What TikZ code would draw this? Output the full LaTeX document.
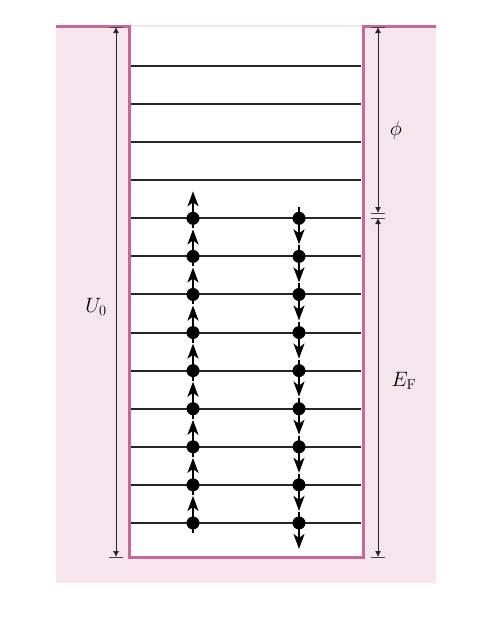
\documentclass[tikz,border=0pt]{standalone}
\usetikzlibrary{arrows.meta}
\definecolor{wellpink}{HTML}{C8679A}
\definecolor{bgpink}{HTML}{F7E5ED}
\definecolor{levelgray}{HTML}{262626}
\tikzset{
  level/.style={draw=levelgray,line width=2pt},
  wall/.style={draw=wellpink,line width=3pt,line join=miter},
  spinup/.style={line width=2pt,-{Stealth[length=15pt,width=11pt,inset=4pt]}},
  spindown/.style={line width=2pt,-{Stealth[length=15pt,width=11pt,inset=4pt]}},
  electron/.style={circle,fill=black,inner sep=0pt,minimum size=13pt},
  dimline/.style={draw=black!85,line width=0.8pt,{Latex[length=6pt,width=6pt]}-{Latex[length=6pt,width=6pt]}},
  dimbar/.style={draw=black!75,line width=0.8pt},
  lab/.style={font=\fontsize{22}{26}\selectfont,inner sep=0pt}
}
\begin{document}
\begin{tikzpicture}[x=1pt,y=-1pt]
\useasboundingbox (0,0) rectangle (498,630);
\fill[white] (0,0) rectangle (498,630);
\fill[bgpink] (56,25) rectangle (436,583);
\fill[white] (129,26.5) rectangle (363,557);
% energy levels
\foreach \i in {0,...,12}{
  \pgfmathsetmacro{\yy}{66+38.08*\i}
  \coordinate (L\i) at (131,\yy);
  \coordinate (R\i) at (361,\yy);
  \draw[level] (L\i) -- (R\i);
}
% electrons
\foreach \i in {4,...,12}{
  \pgfmathsetmacro{\yy}{66+38.08*\i}
  \coordinate (ua\i) at (193,\yy+10);
  \coordinate (ub\i) at (193,\yy-27);
  \coordinate (da\i) at (299,\yy-11);
  \coordinate (db\i) at (299,\yy+26);
  \draw[spinup] (ua\i) -- (ub\i);
  \draw[spindown] (da\i) -- (db\i);
  \node[electron] (eu\i) at (193,\yy) {};
  \node[electron] (ed\i) at (299,\yy) {};
}
% well walls
\coordinate (w1) at (56,26.5);
\coordinate (w2) at (129,26.5);
\coordinate (w3) at (129,557);
\coordinate (w4) at (363.5,557);
\coordinate (w5) at (363.5,26.5);
\coordinate (w6) at (436,26.5);
\draw[wall] (w1) -- (w2) -- (w3) -- (w4) -- (w5) -- (w6);
% U0 dimension
\coordinate (ut) at (116,27);
\coordinate (ub) at (116,557);
\draw[dimline] (ut) -- (ub);
\draw[dimbar] (109,27) -- (123,27);
\draw[dimbar] (109,557) -- (123,557);
\node[lab] (U0) at (96,307) {$U_0$};
% phi / EF dimension
\coordinate (pt) at (378,27);
\coordinate (pm1) at (378,213);
\coordinate (pm2) at (378,218);
\coordinate (pb) at (378,557);
\draw[dimline] (pt) -- (pm1);
\draw[dimline] (pm2) -- (pb);
\draw[dimbar] (371,27) -- (385,27);
\draw[dimbar] (371,213) -- (385,213);
\draw[dimbar] (371,218) -- (385,218);
\draw[dimbar] (371,557) -- (385,557);
\node[lab] (phi) at (396,130) {$\phi$};
\node[lab] (EF) at (404,381) {$E_{\mathrm{F}}$};
\end{tikzpicture}
\end{document}
